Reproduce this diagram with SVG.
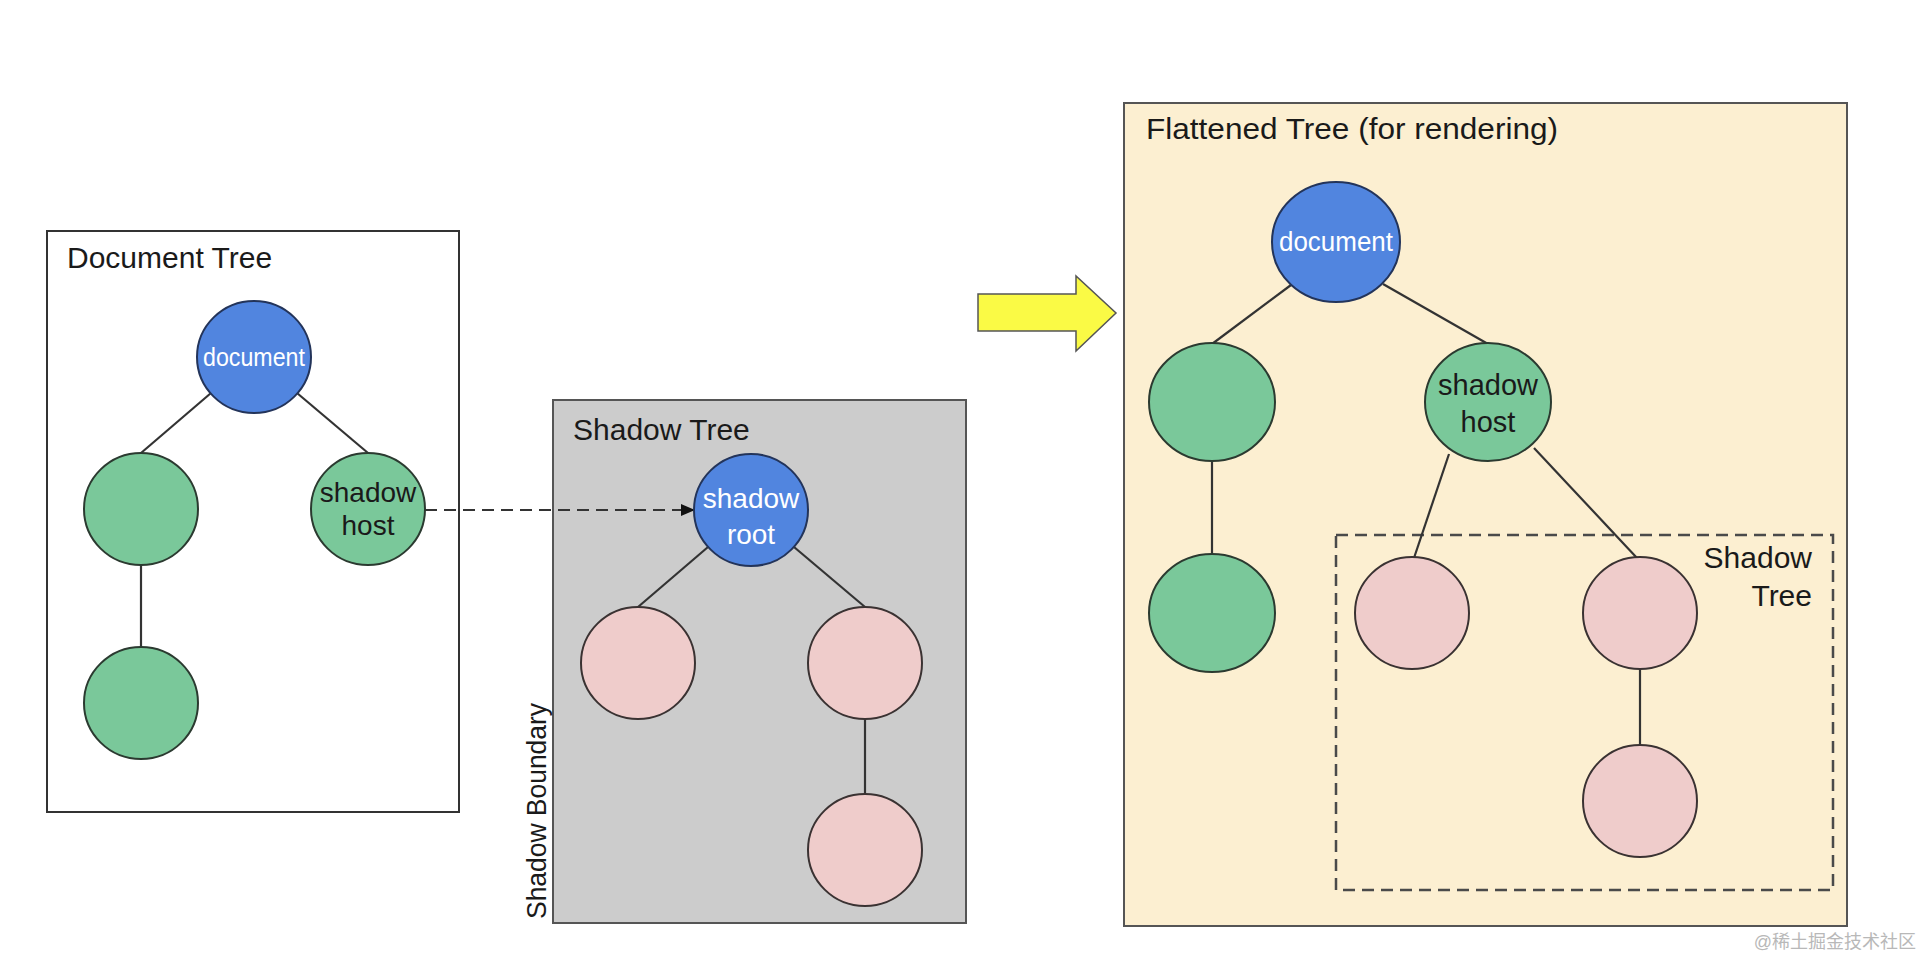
<svg xmlns="http://www.w3.org/2000/svg" width="1924" height="960" viewBox="0 0 1924 960">
  <style>
    .t { font-family: "Liberation Sans", Arial, sans-serif; fill: #1a1a1a; }
    .title { font-size: 30px; }
    .lbl { font-size: 28px; text-anchor: middle; }
    .wlbl { font-size: 25px; text-anchor: middle; fill: #ffffff; }
    .blue { fill: #5185df; stroke: #23345a; stroke-width: 2; }
    .green { fill: #7ac89a; stroke: #2b3a30; stroke-width: 2; }
    .pink { fill: #efcccb; stroke: #3a3232; stroke-width: 2; }
    .edge { stroke: #333333; stroke-width: 2.2; fill: none; }
    .dash { stroke: #333333; stroke-width: 2.2; fill: none; stroke-dasharray: 12 7; }
  </style>
  <defs>
    <marker id="ah" markerWidth="14" markerHeight="12" refX="13" refY="6" orient="auto" markerUnits="userSpaceOnUse">
      <path d="M0,0 L14,6 L0,12 Z" fill="#111111"/>
    </marker>
  </defs>
  <rect width="1924" height="960" fill="#ffffff"/>

  <!-- Containers -->
  <g id="document-tree-box">
    <rect x="47" y="231" width="412" height="581" fill="#ffffff" stroke="#333333" stroke-width="2"/>
    <text class="t title" x="67" y="268">Document Tree</text>
  </g>
  <g id="shadow-tree-box">
    <rect x="553" y="400" width="413" height="523" fill="#cccccc" stroke="#555555" stroke-width="2"/>
    <text class="t title" x="573" y="440">Shadow Tree</text>
    <text class="t" font-size="27" transform="translate(546,811) rotate(-90)" text-anchor="middle" textLength="216" lengthAdjust="spacingAndGlyphs">Shadow Boundary</text>
  </g>
  <g id="flattened-tree-box">
    <rect x="1124" y="103" width="723" height="823" fill="#fcefd1" stroke="#555555" stroke-width="2"/>
    <text class="t title" x="1146" y="139" textLength="412" lengthAdjust="spacingAndGlyphs">Flattened Tree (for rendering)</text>
  </g>
  <g id="flattened-shadow-tree-box">
    <rect x="1336" y="535" width="497" height="355" fill="none" stroke="#4a4a4a" stroke-width="2.5" stroke-dasharray="12 7"/>
    <text class="t title" x="1812" y="568" text-anchor="end">Shadow</text>
    <text class="t title" x="1812" y="606" text-anchor="end">Tree</text>
  </g>

  <!-- Connectors -->
  <g id="connectors">
    <line class="edge" x1="211" y1="393" x2="141" y2="453"/>
    <line class="edge" x1="297" y1="393" x2="368" y2="453"/>
    <line class="edge" x1="141" y1="565" x2="141" y2="647"/>

    <line class="edge" x1="708" y1="547" x2="638" y2="607"/>
    <line class="edge" x1="794" y1="547" x2="865" y2="607"/>
    <line class="edge" x1="865" y1="719" x2="865" y2="794"/>

    <line class="edge" x1="1291" y1="285" x2="1212" y2="344"/>
    <line class="edge" x1="1383" y1="284" x2="1488" y2="344"/>
    <line class="edge" x1="1212" y1="461" x2="1212" y2="554"/>
    <line class="edge" x1="1449" y1="454" x2="1414" y2="558"/>
    <line class="edge" x1="1534" y1="448" x2="1637" y2="558"/>
    <line class="edge" x1="1640" y1="669" x2="1640" y2="745"/>

    <line class="dash" x1="425" y1="510" x2="694" y2="510" marker-end="url(#ah)"/>

    <path id="yellow-arrow" d="M978,294 L1076,294 L1076,276 L1116,313 L1076,351 L1076,331 L978,331 Z" fill="#fafa45" stroke="#555555" stroke-width="1.5"/>
  </g>

  <!-- Document tree nodes -->
  <g id="doc-document">
    <ellipse class="blue" cx="254" cy="357" rx="57" ry="56"/>
    <text class="t wlbl" x="254" y="366" textLength="102" lengthAdjust="spacingAndGlyphs">document</text>
  </g>
  <g id="doc-child-left">
    <ellipse class="green" cx="141" cy="509" rx="57" ry="56"/>
  </g>
  <g id="doc-shadow-host">
    <ellipse class="green" cx="368" cy="509" rx="57" ry="56"/>
    <text class="t lbl" x="368" y="502">shadow</text>
    <text class="t lbl" x="368" y="535">host</text>
  </g>
  <g id="doc-grandchild">
    <ellipse class="green" cx="141" cy="703" rx="57" ry="56"/>
  </g>

  <!-- Shadow tree nodes -->
  <g id="shadow-root">
    <ellipse class="blue" cx="751" cy="510" rx="57" ry="56"/>
    <text class="t lbl" x="751" y="508" style="fill:#ffffff">shadow</text>
    <text class="t lbl" x="751" y="544" style="fill:#ffffff">root</text>
  </g>
  <g id="shadow-child-left">
    <ellipse class="pink" cx="638" cy="663" rx="57" ry="56"/>
  </g>
  <g id="shadow-child-right">
    <ellipse class="pink" cx="865" cy="663" rx="57" ry="56"/>
  </g>
  <g id="shadow-grandchild">
    <ellipse class="pink" cx="865" cy="850" rx="57" ry="56"/>
  </g>

  <!-- Flattened tree nodes -->
  <g id="flat-document">
    <ellipse class="blue" cx="1336" cy="242" rx="64" ry="60"/>
    <text class="t wlbl" x="1336" y="251" style="font-size:27px" textLength="114" lengthAdjust="spacingAndGlyphs">document</text>
  </g>
  <g id="flat-child-left">
    <ellipse class="green" cx="1212" cy="402" rx="63" ry="59"/>
  </g>
  <g id="flat-shadow-host">
    <ellipse class="green" cx="1488" cy="402" rx="63" ry="59"/>
    <text class="t lbl" x="1488" y="395" style="font-size:29px">shadow</text>
    <text class="t lbl" x="1488" y="432" style="font-size:29px">host</text>
  </g>
  <g id="flat-grandchild-left">
    <ellipse class="green" cx="1212" cy="613" rx="63" ry="59"/>
  </g>
  <g id="flat-shadow-left">
    <ellipse class="pink" cx="1412" cy="613" rx="57" ry="56"/>
  </g>
  <g id="flat-shadow-right">
    <ellipse class="pink" cx="1640" cy="613" rx="57" ry="56"/>
  </g>
  <g id="flat-shadow-grandchild">
    <ellipse class="pink" cx="1640" cy="801" rx="57" ry="56"/>
  </g>

  <text class="t" x="1916" y="948" font-size="18" text-anchor="end" style="fill:#b8b8b8; font-family:'Liberation Sans','Noto Sans CJK SC',sans-serif">@稀土掘金技术社区</text>
</svg>
